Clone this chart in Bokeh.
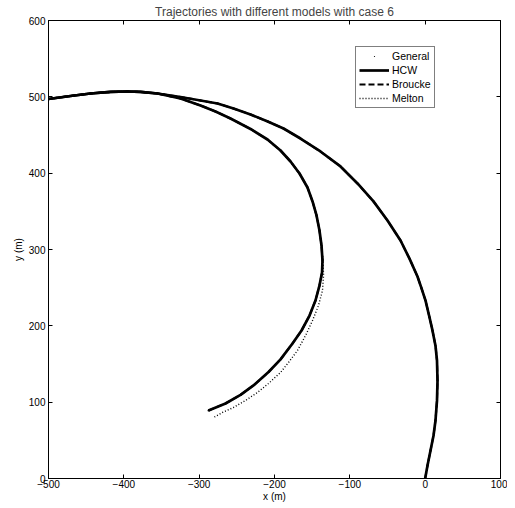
from bokeh.plotting import figure
from bokeh.models import Legend, LegendItem, LinearAxis, FixedTicker, Range1d, CustomJSTickFormatter
from bokeh.embed import file_html
from bokeh.resources import INLINE

# ---- data ----
x_ticks = [-500, -400, -300, -200, -100, 0, 100]
y_ticks = [0, 100, 200, 300, 400, 500, 600]

# outer arc, shared by all models (from the start point at the origin)
outer_x = [0.0, 3.1, 7.1, 11.1, 13.7, 15.7, 16.4, 15.7, 13.7, 9.7, 5.8, 0.5, -4.8, -10.2,
           -20.8, -32.7, -50, -68.6, -89.8, -112.4, -139, -165.5, -188, -209, -231.8,
           -254.4, -275.6, -298.2, -324.8, -355.3, -377.9, -395.1, -417.7, -444.2,
           -470.8, -500, -520]
outer_y = [0, 17, 36.7, 56.3, 76, 102, 128, 154.6, 174, 194, 211, 233, 249, 264.6,
           288, 311.8, 338, 363, 386.5, 408.8, 428.4, 445.4, 458.5, 467.7, 476.9,
           484.7, 491.3, 495.2, 499.8, 504.4, 506.4, 507, 506.4, 504.4,
           501.1, 497.2, 494]

# inner arc (General / HCW / Broucke)
inner_x = [-520, -500, -470.8, -444.2, -417.7, -395.1, -377.9, -355.3, -324.8, -298.2,
           -278.3, -258.4, -231.8, -209.3, -192, -178.7, -166.8, -156.2, -149.5, -144.2,
           -140.3, -137.6, -136.3, -136.9, -140.3, -145.6, -153.5, -164.1, -176.1,
           -192, -207.9, -226.5, -245.1, -265, -287.6]
inner_y = [494, 497.2, 501.1, 504.4, 506.4, 507, 506.4, 504.4, 497.8, 488.7,
           480.8, 471.6, 457.9, 444.1, 429.7, 415.3, 399.6, 381.2, 362.9, 344.6,
           324.9, 305.3, 285.6, 269.9, 252.8, 233.2, 213.5, 193.9, 176.9,
           156, 139.5, 123, 109.5, 98.3, 89.1]

# inner arc (Melton)
melton_x = [-520, -500, -470.8, -444.2, -417.7, -395.1, -377.9, -355.3, -324.8, -298.2,
            -278.3, -258.4, -231.8, -209.3, -192, -178.7, -166.8, -156.2, -149.5, -144.2,
            -140.3, -137.6, -135.6, -134.9, -136.3, -141.6, -149.5, -158.8, -169.5,
            -181.4, -192, -207.9, -222.6, -238.5, -254.4, -269, -281]
melton_y = [494, 497.2, 501.1, 504.4, 506.4, 507, 506.4, 504.4, 497.8, 488.7,
            480.8, 471.6, 457.9, 444.1, 429.7, 415.3, 399.6, 381.2, 362.9, 344.6,
            324.9, 305.3, 285.6, 266, 246.3, 226.6, 207, 187.3, 167.7,
            152, 138.9, 124.5, 112.7, 102.2, 93, 86.5, 79.9]

FONT = "Liberation Sans"

p = figure(frame_width=452, frame_height=458,
           x_range=Range1d(-500, 100), y_range=Range1d(0, 600),
           output_backend="svg", toolbar_location=None,
           min_border_left=48, min_border_right=7, min_border_top=20, min_border_bottom=22,
           background_fill_color="white", border_fill_color="white")

p.title.text = "Trajectories with different models with case 6"
p.title.align = "center"
p.title.text_font = FONT
p.title.text_font_size = "12px"
p.title.text_font_style = "normal"
p.title.standoff = 4
p.title.offset = 0

p.grid.visible = False
p.outline_line_color = "black"
p.outline_line_width = 1

def style_axis(ax, show_labels=True):
    ax.axis_line_color = "black"
    ax.major_tick_in = 4
    ax.major_tick_out = 0
    ax.minor_tick_in = 0
    ax.minor_tick_out = 0
    ax.major_tick_line_color = "black"
    ax.major_label_text_font = FONT
    ax.major_label_text_color = "black"
    ax.major_label_text_font_size = "10px"
    ax.axis_label_text_font = FONT
    ax.axis_label_text_font_style = "normal"
    ax.axis_label_text_font_size = "10px"
    ax.axis_label_text_color = "black"
    if show_labels:
        ax.major_label_standoff = 2
        ax.axis_label_standoff = 0
    else:
        ax.formatter = CustomJSTickFormatter(code="return ''")
        ax.major_label_standoff = 0

p.xaxis.ticker = FixedTicker(ticks=x_ticks)
p.yaxis.ticker = FixedTicker(ticks=y_ticks)
p.xaxis.axis_label = "x (m)"
p.yaxis.axis_label = "y (m)"
style_axis(p.xaxis[0])
style_axis(p.yaxis[0])
p.xaxis.major_label_standoff = 1
p.yaxis.major_label_standoff = 3
p.yaxis.axis_label_standoff = 2

top_ax = LinearAxis(ticker=FixedTicker(ticks=x_ticks))
right_ax = LinearAxis(ticker=FixedTicker(ticks=y_ticks))
style_axis(top_ax, False)
style_axis(right_ax, False)
p.add_layout(top_ax, "above")
p.add_layout(right_ax, "right")

xs_main = [outer_x, inner_x]
ys_main = [outer_y, inner_y]

r_melton = p.multi_line([outer_x, melton_x], [outer_y, melton_y], line_color="black",
                        line_width=1.4, line_dash="1 2")
r_brou = p.multi_line(xs_main, ys_main, line_color="black", line_width=2, line_dash="6 3")
r_hcw = p.multi_line(xs_main, ys_main, line_color="black", line_width=2.7,
                     line_join="round")
r_gen = p.scatter(outer_x + inner_x, outer_y + inner_y, marker="dot", size=8, color="black")

legend = Legend(items=[
    LegendItem(label="General", renderers=[r_gen]),
    LegendItem(label="HCW", renderers=[r_hcw]),
    LegendItem(label="Broucke", renderers=[r_brou]),
    LegendItem(label="Melton", renderers=[r_melton]),
], location=(307, 370))
legend.label_text_font = FONT
legend.label_text_font_size = "10.5px"
legend.label_text_color = "black"
legend.glyph_width = 30
legend.glyph_height = 12
legend.label_height = 12
legend.spacing = 2
legend.padding = 3
legend.margin = 0
legend.label_standoff = 3
legend.border_line_color = "black"
legend.border_line_width = 1
legend.background_fill_color = "white"
legend.background_fill_alpha = 1
p.add_layout(legend, "center")

open("out.html", "w").write(file_html(p, INLINE))
